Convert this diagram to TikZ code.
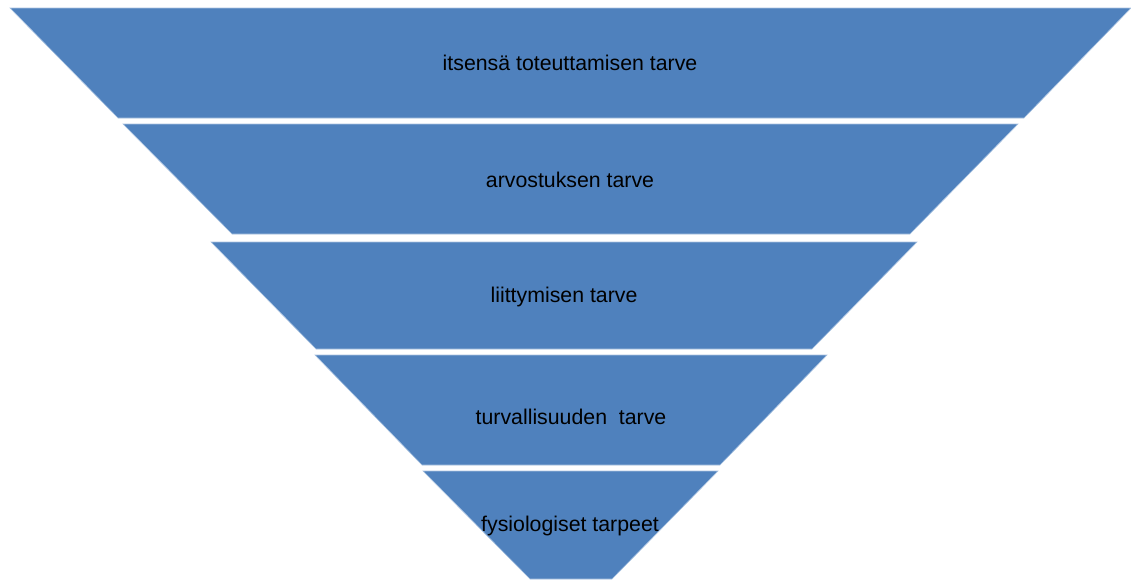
\documentclass[tikz,border=0pt]{standalone}
\usepackage{fontspec}
\setmainfont{Liberation Sans}
\definecolor{bandblue}{RGB}{79,129,189}
\definecolor{bandedge}{RGB}{170,195,225}
\begin{document}
\begin{tikzpicture}[x=1pt,y=-1pt,
  band/.style={fill=bandblue,draw=bandedge,line width=0.6pt},
  lbl/.style={font=\fontsize{21.3}{25}\selectfont,text=black,inner sep=0pt}]
\useasboundingbox (0,0) rectangle (1131,579);
\fill[white] (0,0) rectangle (1131,579);
\draw[band] (10,8) -- (1131,8) -- (1024,118) -- (118,118) -- cycle;
\draw[band] (123,124) -- (1018,124) -- (910,234) -- (232,234) -- cycle;
\draw[band] (211,242) -- (917,242) -- (812,349) -- (316,349) -- cycle;
\draw[band] (315,355) -- (827,355) -- (720,465) -- (422,465) -- cycle;
\draw[band] (423,471) -- (718,471) -- (612,579) -- (530,579) -- cycle;
\node[lbl] (n1) at (570,63) {itsensä toteuttamisen tarve};
\node[lbl] (n2) at (570,180) {arvostuksen tarve};
\node[lbl] (n3) at (564,297) {liittymisen tarve};
\node[lbl] (n4) at (571,417) {turvallisuuden\ \ tarve};
\node[lbl] (n5) at (570,526) {fysiologiset tarpeet};
\end{tikzpicture}
\end{document}
